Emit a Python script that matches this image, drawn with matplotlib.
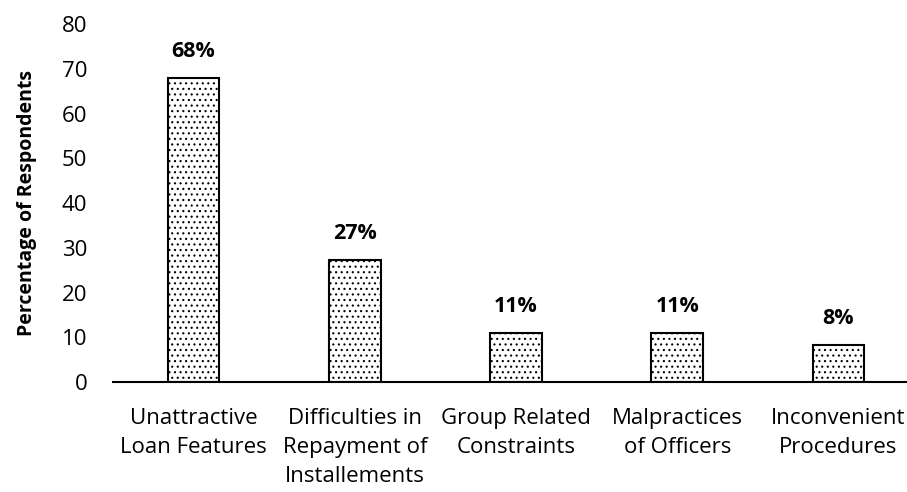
import numpy as np
import matplotlib.pyplot as plt

plt.rcParams['font.family'] = ['Open Sans', 'DejaVu Sans']
plt.rcParams['hatch.linewidth'] = 0.8

categories = ["Unattractive\nLoan Features",
              "Difficulties in\nRepayment of\nInstallements",
              "Group Related\nConstraints",
              "Malpractices\nof Officers",
              "Inconvenient\nProcedures"]
values = [67.9, 27.3, 10.9, 10.9, 8.3]
labels = ["68%", "27%", "11%", "11%", "8%"]

fig = plt.figure(figsize=(9.07, 4.92), dpi=100)
ax = fig.add_axes([113 / 907, 110 / 492, 806 / 907, 357.6 / 492])

x = np.arange(len(categories))
bars = ax.bar(x, values, width=0.32, color="white", edgecolor="black",
              linewidth=1.5, hatch="...")

for xi, v, lab in zip(x, values, labels):
    ax.text(xi, v + 3.6, lab, ha="center", va="bottom", fontsize=15.5,
            fontweight="bold")

ax.set_xlim(-0.5, 4.5)
ax.set_ylim(0, 80)
ax.set_yticks(np.arange(0, 81, 10))
ax.set_xticks(x)
ax.set_xticklabels(categories, fontsize=16, linespacing=1.5)
ax.tick_params(axis="y", length=0, labelsize=16, pad=18.5)
ax.tick_params(axis="x", length=0, pad=19)
for s in ["top", "right", "left"]:
    ax.spines[s].set_visible(False)
ax.spines["bottom"].set_linewidth(1.5)
ax.set_ylabel("Percentage of Respondents", fontsize=14, fontweight="bold",
              labelpad=18)

fig.savefig("out.png", dpi=100)
